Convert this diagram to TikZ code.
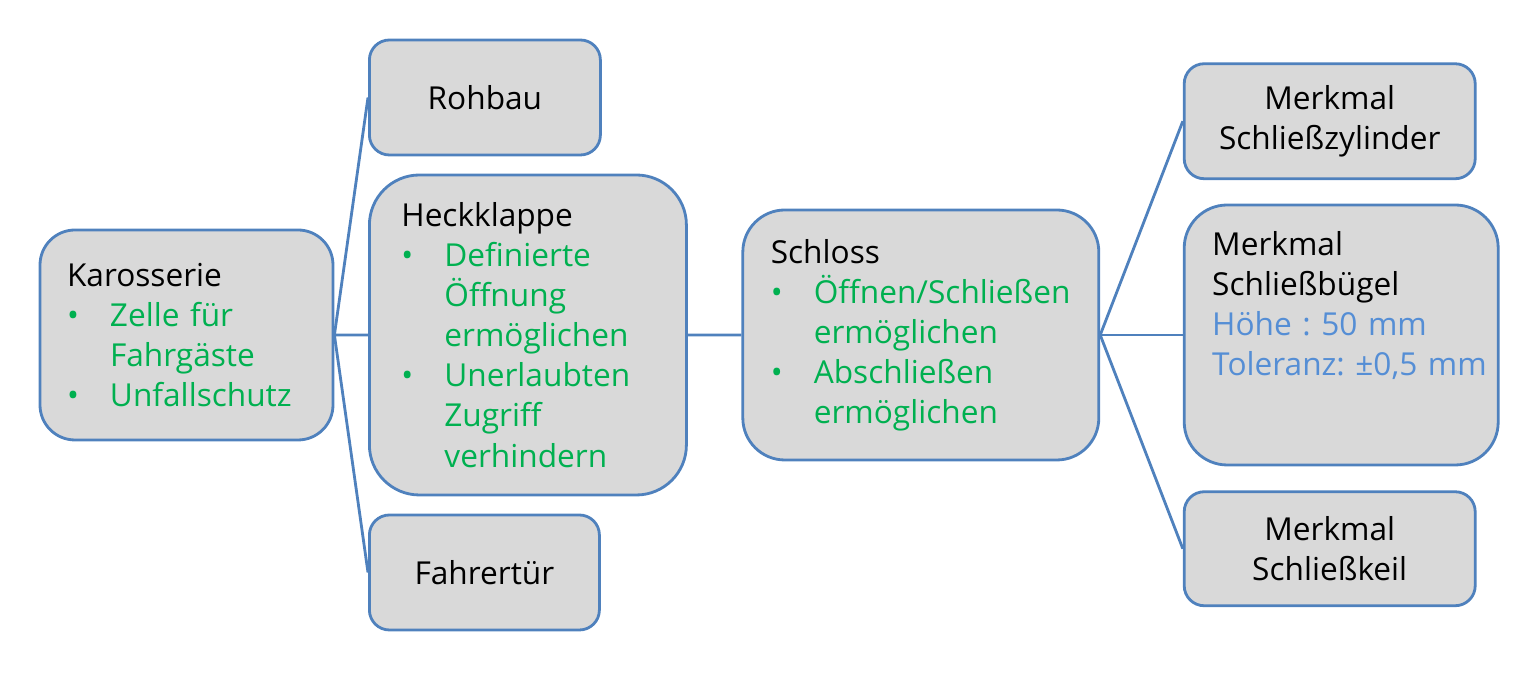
\documentclass[tikz,border=0pt]{standalone}
\usepackage{fontspec}
\setmainfont{Open Sans}
\hyphenpenalty=10000
\exhyphenpenalty=10000
\frenchspacing

\definecolor{rahmen}{RGB}{79,129,189}
\definecolor{grau}{RGB}{217,217,217}
\definecolor{gruen}{RGB}{0,176,80}
\definecolor{wertblau}{RGB}{85,142,213}

\newcommand{\punkt}{\makebox[0.86cm][l]{\textbullet}}
\newcommand{\weiter}{\hspace*{0.86cm}}

\tikzset{
  kasten/.style={draw=rahmen, fill=grau, line width=1.6pt, inner ysep=2pt,
    font=\fontsize{18}{22.8}\selectfont},
  links/.style={kasten, align=left},
  mitte/.style={kasten, align=center, inner xsep=0.2cm, rounded corners=0.4cm, minimum height=2.3cm},
}

\begin{document}
\begin{tikzpicture} [grow=right,
    edge from parent/.style={draw=rahmen, line width=1.6pt},
    edge from parent path={(\tikzparentnode.east) -- (\tikzchildnode.west)}]
      \tikzstyle{level 1}=[sibling distance = 4.75 cm, level distance = 3.63 cm]
        \tikzstyle{level 2}=[level distance = 4.27 cm]
          \tikzstyle{level 3}=[sibling distance = 4.275 cm, level distance = 5.24 cm, yshift=0.08cm]
            \tikzstyle{every child node}=[anchor=west]
      \useasboundingbox (0,0) rectangle (30.7,13.52);
          \node[links, text width=4.78cm, inner xsep=0.54cm, minimum height=4.2cm, rounded corners=0.7cm]
            (karosserie) at (3.73,6.82)
            {Karosserie\\ \color{gruen}\punkt Zelle für\\ \weiter Fahrgäste\\ \punkt Unfallschutz}
            child{
              node[mitte, text width=4.2cm] (fahrertuer) {Fahrertür}
            }
            child{
              node[links, text width=5.06cm, inner xsep=0.64cm, minimum height=6.4cm, rounded corners=1cm]
                (heckklappe)
                {Heckklappe\\ \color{gruen}\punkt Definierte\\ \weiter Öffnung\\ \weiter ermöglichen\\
                 \punkt Unerlaubten\\ \weiter Zugriff\\ \weiter verhindern}
                 child{
                    node[links, text width=6.0cm, inner xsep=0.56cm, minimum height=5cm, rounded corners=0.84cm]
                      (schloss)
                      {Schloss\\ \color{gruen}\punkt Öffnen/Schließen\\ \weiter ermöglichen\\
                       \punkt Abschließen\\ \weiter ermöglichen}
                       child{
                         node[mitte, text width=5.42cm, minimum height=2.28cm] (keil) {Merkmal\\ Schließkeil}
                       }
                       child{
                         node[links, text width=5.16cm, inner xsep=0.56cm, minimum height=5.2cm,
                           rounded corners=0.86cm, text depth=3.65cm]
                           (buegel)
                           {Merkmal\\ Schließbügel\\ \color{wertblau}\mbox{Höhe : 50 mm}\\ \mbox{Toleranz: ±0,5 mm}}
                       }
                       child{
                         node[mitte, text width=5.42cm] (zylinder) {Merkmal\\ Schließzylinder}
                       }
                 }
            }
            child{
              node[mitte, text width=4.22cm] (rohbau) {Rohbau}
            };
        \end{tikzpicture}
\end{document}
